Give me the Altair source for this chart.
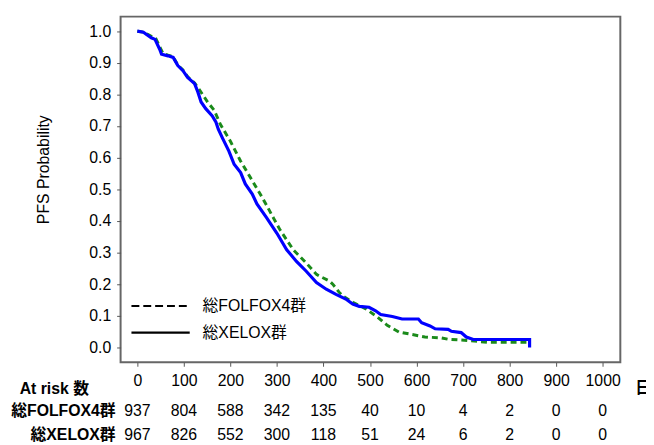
import altair as alt
import pandas as pd

# ---- data ----
xelox_day = [0, 13, 30, 38, 48, 52, 66, 77, 87, 98, 108, 123, 130, 137, 147, 161, 169, 174,
             183, 197, 208, 222, 232, 247, 257, 278, 300, 321, 342, 363, 385, 406, 427, 448,
             463, 477, 498, 512, 523, 548, 569, 604, 611, 629, 640, 668, 675, 696, 707, 722,
             843, 843]
xelox_surv = [1.0, 0.997, 0.979, 0.974, 0.943, 0.927, 0.922, 0.917, 0.891, 0.875, 0.854, 0.834,
              0.808, 0.776, 0.755, 0.732, 0.712, 0.690, 0.662, 0.620, 0.579, 0.553, 0.517,
              0.485, 0.454, 0.410, 0.361, 0.309, 0.272, 0.241, 0.205, 0.184, 0.168, 0.153,
              0.137, 0.130, 0.127, 0.116, 0.104, 0.098, 0.090, 0.090, 0.078, 0.068, 0.059,
              0.057, 0.051, 0.047, 0.033, 0.025, 0.025, 0.0]

folfox_day = [0, 13, 30, 40, 50, 55, 66, 77, 87, 98, 108, 123, 132, 151, 165, 179, 200, 222,
              243, 264, 278, 293, 307, 335, 363, 385, 392, 413, 420, 434, 441, 463, 491, 516,
              537, 562, 590, 618, 654, 668, 703, 753, 837]
folfox_surv = [1.0, 0.997, 0.984, 0.976, 0.945, 0.930, 0.924, 0.919, 0.893, 0.877, 0.856,
               0.836, 0.818, 0.776, 0.750, 0.704, 0.652, 0.589, 0.537, 0.485, 0.449, 0.408,
               0.371, 0.309, 0.267, 0.231, 0.225, 0.210, 0.200, 0.174, 0.163, 0.143, 0.122,
               0.096, 0.070, 0.049, 0.041, 0.033, 0.030, 0.026, 0.023, 0.016, 0.016]

risk_days = [0, 100, 200, 300, 400, 500, 600, 700, 800, 900, 1000]
risk_folfox = [937, 804, 588, 342, 135, 40, 10, 4, 2, 0, 0]
risk_xelox = [967, 826, 552, 300, 118, 51, 24, 6, 2, 0, 0]

x_ticks = list(range(0, 1001, 100))
y_ticks = [0.0, 0.1, 0.2, 0.3, 0.4, 0.5, 0.6, 0.7, 0.8, 0.9, 1.0]

FONT = "Liberation Sans, Arial, Noto Sans CJK JP"
FS = 16

W, H = 506, 350
xscale = alt.Scale(domain=[-36, 1038], nice=False, zero=False)
yscale = alt.Scale(domain=[-0.047, 1.046], nice=False, zero=False)

xel = pd.DataFrame({"day": xelox_day, "surv": xelox_surv, "ord": range(len(xelox_day))})
fol = pd.DataFrame({"day": folfox_day, "surv": folfox_surv, "ord": range(len(folfox_day))})
risk = pd.DataFrame({"day": risk_days, "f": risk_folfox, "x": risk_xelox})

xaxis = alt.Axis(values=x_ticks, format="d", title=None, grid=False, tickSize=4, labelPadding=15,
                 labelBaseline="middle", labelFontSize=FS, labelFont=FONT, labelColor="black",
                 domain=False, tickColor="#555", labelFlush=False, labelOverlap=False)
yaxis = alt.Axis(values=y_ticks, format=".1f", title=None, grid=False, tickSize=4,
                 labelPadding=6, labelFontSize=FS, labelFont=FONT, labelColor="black",
                 domain=False, tickColor="#555", labelOverlap=False, labelFlush=False)

X = alt.X("day:Q", scale=xscale, axis=xaxis)
Y = alt.Y("surv:Q", scale=yscale, axis=yaxis)

green = alt.Chart(fol).mark_line(color="#1a8a1a", strokeWidth=3, strokeDash=[6, 4]).encode(
    x=X, y=Y, order="ord:Q")
blue = alt.Chart(xel).mark_line(color="#0000ff", strokeWidth=3.2).encode(
    x=X, y=Y, order="ord:Q")

one = risk.head(1)

# legend (inside plot)
leg_dash = alt.Chart(one).mark_rule(color="black", strokeWidth=2, strokeDash=[8, 4]).encode(
    x=alt.value(11), x2=alt.value(70), y=alt.value(293))
leg_solid = alt.Chart(one).mark_rule(color="black", strokeWidth=2.2).encode(
    x=alt.value(11), x2=alt.value(70), y=alt.value(320))
leg_t1 = alt.Chart(one).mark_text(text="総FOLFOX4群", align="left", baseline="middle",
                                  fontSize=FS, font=FONT, color="black").encode(
    x=alt.value(83), y=alt.value(293))
leg_t2 = alt.Chart(one).mark_text(text="総XELOX群", align="left", baseline="middle",
                                  fontSize=FS, font=FONT, color="black").encode(
    x=alt.value(83), y=alt.value(320))

ytitle = alt.Chart(one).mark_text(text="PFS Probability", angle=270, baseline="middle",
                                  align="center", fontSize=FS, font=FONT, color="black").encode(
    x=alt.value(-77), y=alt.value(155))

atrisk = alt.Chart(one).mark_text(text="At risk 数", align="right", baseline="middle",
                                  fontSize=FS, font=FONT, fontWeight="bold", color="black").encode(
    x=alt.value(-32), y=alt.value(377))
nichi = alt.Chart(one).mark_text(text="日", align="left", baseline="middle",
                                 fontSize=FS, font=FONT, fontWeight="bold", color="black").encode(
    x=alt.value(521), y=alt.value(376))
lab_f = alt.Chart(one).mark_text(text="総FOLFOX4群", align="right", baseline="middle",
                                 fontSize=FS, font=FONT, fontWeight="bold", color="black").encode(
    x=alt.value(-5), y=alt.value(399))
lab_x = alt.Chart(one).mark_text(text="総XELOX群", align="right", baseline="middle",
                                 fontSize=FS, font=FONT, fontWeight="bold", color="black").encode(
    x=alt.value(-5), y=alt.value(424))

num_f = alt.Chart(risk).mark_text(baseline="middle", align="center", fontSize=FS, font=FONT,
                                  color="black").encode(
    x=X, y=alt.value(399), text="f:Q")
num_x = alt.Chart(risk).mark_text(baseline="middle", align="center", fontSize=FS, font=FONT,
                                  color="black").encode(
    x=X, y=alt.value(424), text="x:Q")

chart = alt.layer(green, blue, leg_dash, leg_solid, leg_t1, leg_t2, ytitle, atrisk, nichi,
                  lab_f, lab_x, num_f, num_x).properties(
    width=W, height=H,
    autosize=alt.AutoSizeParams(type="none"),
    padding={"left": 114, "top": 6, "right": 26, "bottom": 81},
    background="white",
).configure_view(stroke="#666666", strokeWidth=2)

chart.save("out.html", embed_options={"renderer": "svg", "actions": False})
